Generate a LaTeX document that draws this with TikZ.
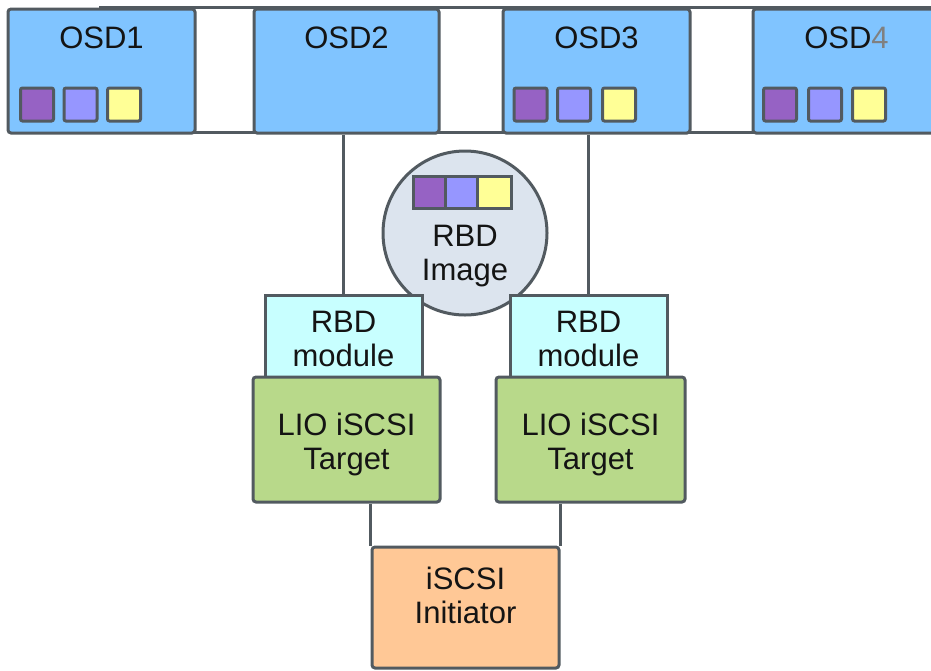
\documentclass[tikz,border=0pt]{standalone}
\usepackage{fontspec}
\setmainfont{Liberation Sans}
\begin{document}
\begin{tikzpicture}[x=1pt,y=-1pt,
  bord/.style={draw=edgegray, line width=3pt, rounded corners=3pt},
  osd/.style={bord, fill=osdblue, minimum width=187pt, minimum height=124pt, inner sep=0pt},
  txt/.style={font=\fontsize{31}{34}\selectfont, text=txtgray, align=center, inner sep=0pt},
  sq/.style={bord, rounded corners=2pt, minimum size=33pt, inner sep=0pt},
  cell/.style={draw=edgegray, line width=3pt, minimum width=32pt, minimum height=32pt, inner sep=0pt},
  conn/.style={draw=edgegray, line width=3pt},
  modbox/.style={draw=edgegray, line width=3pt, fill=modcyan, minimum width=157pt, minimum height=84pt, inner sep=0pt},
  liobox/.style={bord, fill=liogreen, minimum width=187pt, minimum height=125pt, inner sep=0pt},
]
\definecolor{edgegray}{RGB}{82,90,96}
\definecolor{osdblue}{RGB}{128,196,255}
\definecolor{txtgray}{RGB}{20,20,20}
\definecolor{cpurple}{RGB}{150,98,196}
\definecolor{clav}{RGB}{150,150,255}
\definecolor{cyel}{RGB}{255,255,150}
\definecolor{circfill}{RGB}{220,228,238}
\definecolor{modcyan}{RGB}{200,255,255}
\definecolor{liogreen}{RGB}{184,217,138}
\definecolor{initpeach}{RGB}{255,200,150}
\useasboundingbox (0,0) rectangle (931,670);
\clip (0,0) rectangle (931,670);
% frame behind the OSDs
\draw[draw=edgegray, line width=3pt, fill=white] (100,7) rectangle (960,132);
% OSD boxes
\node[osd] (osd1) at (101.5,71) {};
\node[osd, minimum width=185pt] (osd2) at (346.5,71) {};
\node[osd] (osd3) at (596.5,71) {};
\node[osd] (osd4) at (846.5,71) {};
\node[txt] (t1) at (101.5,37.5) {OSD1};
\node[txt] (t2) at (346.5,37.5) {OSD2};
\node[txt] (t3) at (596.5,37.5) {OSD3};
\node[txt] (t4) at (846.5,37.5) {OSD\textcolor{gray}{4}};
% squares
\node[sq, fill=cpurple] (s1a) at (37,104.5) {};
\node[sq, fill=clav] (s1b) at (80.5,104.5) {};
\node[sq, fill=cyel] (s1c) at (124,104.5) {};
\node[sq, fill=cpurple] (s3a) at (530.5,104.5) {};
\node[sq, fill=clav] (s3b) at (574,104.5) {};
\node[sq, fill=cyel] (s3c) at (619,104.5) {};
\node[sq, fill=cpurple] (s4a) at (780,104.5) {};
\node[sq, fill=clav] (s4b) at (825,104.5) {};
\node[sq, fill=cyel] (s4c) at (869,104.5) {};
% RBD image
\node[circle, draw=edgegray, line width=3pt, fill=circfill, minimum size=164pt, inner sep=0pt] (img) at (465,233) {};
\node[cell, fill=cpurple] (c1) at (429.5,192) {};
\node[cell, fill=clav] (c2) at (461.5,192) {};
\node[cell, fill=cyel, minimum width=34pt] (c3) at (494.5,192) {};
\node[txt] (imgtxt) at (465,256) {RBD\\Image};
% RBD modules
\node[modbox] (rbdl) at (343.5,337) {};
\node[modbox] (rbdr) at (588.5,337) {};
\node[txt] (rbdltxt) at (343.5,339) {RBD\\module};
\node[txt] (rbdrtxt) at (588.5,339) {RBD\\module};
% LIO targets
\node[liobox] (liol) at (346.5,439.5) {};
\node[liobox, minimum width=189pt] (lior) at (590.5,439.5) {};
\node[txt] (lioltxt) at (346.5,444.5) {LIO iSCSI\\Target};
\node[txt] (liortxt) at (590.5,444.5) {LIO iSCSI\\Target};
% initiator
\node[bord, fill=initpeach, minimum width=187pt, minimum height=121pt, inner sep=0pt] (init) at (465.5,607.5) {};
\node[txt] (inittxt) at (465.5,595) {iSCSI\\Initiator};
% connectors
\draw[conn] (rbdl.north) -- (rbdl.north |- osd2.south);
\draw[conn] (rbdr.north) -- (rbdr.north |- osd3.south);
\draw[conn] (init.north west) -- (init.north west |- liol.south);
\draw[conn] (init.north east) -- (init.north east |- lior.south);
\end{tikzpicture}
\end{document}
